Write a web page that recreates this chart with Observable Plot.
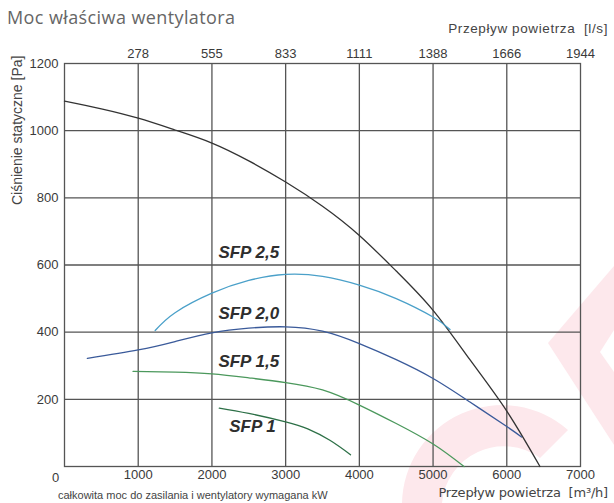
<!DOCTYPE html>
<html lang="pl">
<head>
<meta charset="utf-8">
<script src="https://cdn.jsdelivr.net/npm/d3@7"></script>
<script src="https://cdn.jsdelivr.net/npm/@observablehq/plot@0.6"></script>
<style>
  html, body { margin: 0; padding: 0; background: #fff; }
  #wrap { position: relative; width: 614px; height: 503px; overflow: hidden; font-family: "Liberation Sans", Arial, sans-serif; }
  #deco { position: absolute; left: 0; top: 0; }
  #chart { position: absolute; left: 0; top: 0; }
  .t { position: absolute; white-space: nowrap; color: #444; }
  #title { left: 7px; top: 5px; font-family: "Open Sans", sans-serif; font-size: 18px; color: #666; letter-spacing: 0.4px; }
  #topTitle { right: 6px; top: 21px; font-size: 13.5px; color: #444; letter-spacing: 0.6px; }
  #bottomTitle { right: 6px; top: 485px; font-family: "DejaVu Sans", sans-serif; font-size: 13px; color: #444; letter-spacing: -0.2px; }
  #yTitle { left: 18px; top: 48px; font-size: 14px; color: #444; transform-origin: 0 0; transform: translate(-9px, 157px) rotate(-90deg); }
  #caption { left: 58px; top: 489px; font-size: 11px; line-height: 13px; color: #444; }
</style>
</head>
<body>
<div id="wrap">
  <svg id="deco" width="614" height="503">
    <g fill="#fde8ec">
      <polygon points="548,343 614,266 614,330 600,352 614,372 614,445"></polygon>
      <path d="M402,503 A100,100 0 0 1 568,430 L540,458 A62,62 0 0 0 442,503 Z"></path>
    </g>
  </svg>
  <div id="chart"></div>
  <div class="t" id="title">Moc właściwa wentylatora</div>
  <div class="t" id="topTitle">Przepływ powietrza&nbsp; [l/s]</div>
  <div class="t" id="yTitle">Ciśnienie statyczne [Pa]</div>
  <div class="t" id="bottomTitle">Przepływ powietrza&nbsp; [m³/h]</div>
  <div class="t" id="caption">całkowita moc do zasilania i wentylatory wymagana kW</div>
</div>
<script>
// Airflow (m³/h) vs static pressure (Pa)
const fanCurve = [[0,1088],[500,1065],[1000,1037],[1500,1002],[2000,963],[2500,910],[3000,847],[3500,775],[4000,688],[4500,582],[5000,465],[5500,318],[6000,165],[6450,0]];
const sfp25 = [[1230,405],[1500,458],[2000,516],[2500,554],[3000,572],[3500,566],[4000,540],[4500,500],[5000,445],[5230,408]];
const sfp20 = [[310,322],[1000,347],[1500,372],[2000,398],[2500,412],[3000,416],[3500,403],[4000,366],[4500,318],[5000,262],[5500,192],[6000,119],[6200,88]];
const sfp15 = [[930,283],[1500,281],[2000,276],[2500,264],[3000,250],[3500,228],[4000,183],[4500,128],[5000,67],[5420,0]];
const sfp10 = [[2100,174],[2500,158],[3000,133],[3300,112],[3600,78],[3880,35]];

const seriesNames = ["fan", "SFP 2,5", "SFP 2,0", "SFP 1,5", "SFP 1"];
const seriesData = [fanCurve, sfp25, sfp20, sfp15, sfp10];
const seriesColors = ["#333333", "#4aa0c9", "#3a5a9a", "#4b985c", "#2d7047"];

// Curve names and where they are written (m³/h, Pa)
const labelNames = ["SFP 2,5", "SFP 2,0", "SFP 1,5", "SFP 1"];
const labelAt = [[2500, 637], [2500, 456], [2500, 313], [2550, 119]];

// Axis ticks
const xTicks = [0, 1000, 2000, 3000, 4000, 5000, 6000, 7000];
const lsTickLabels = ["", "278", "555", "833", "1111", "1388", "1666", "1944"];
const yTicks = [200, 400, 600, 800, 1000, 1200];

const rows = seriesData.flatMap((pts, i) => pts.map(([q, p]) => ({ series: seriesNames[i], q, p })));
const labels = labelNames.map((name, i) => ({ name, q: labelAt[i][0], p: labelAt[i][1] }));

const gridStyle = { stroke: "#555", strokeOpacity: 1, strokeWidth: 1.3 };
const plain = d => String(d);

const chart = Plot.plot({
  width: 614,
  height: 503,
  marginLeft: 64,
  marginRight: 34,
  marginTop: 63,
  marginBottom: 37,
  style: { background: "transparent", fontFamily: "Liberation Sans, Arial, sans-serif", fontSize: "13px", color: "#3a3a3a" },
  x: { domain: [0, 7000] },
  y: { domain: [0, 1200] },
  color: { domain: seriesNames, range: seriesColors },
  marks: [
    Plot.gridX(xTicks.slice(1, -1), gridStyle),
    Plot.gridY(yTicks.slice(0, -1), gridStyle),
    Plot.frame(gridStyle),
    Plot.axisY(yTicks, { tickSize: 0, tickPadding: 6, label: null, fontSize: 13, tickFormat: plain }),
    Plot.axisX(xTicks.slice(1), { anchor: "bottom", tickSize: 0, tickPadding: 3, label: null, fontSize: 13, tickFormat: plain }),
    Plot.text([xTicks[0]], { x: d => d, frameAnchor: "bottom", dy: 15, dx: -9, text: plain, fontSize: 13, fill: "#3a3a3a" }),
    Plot.axisX(xTicks.slice(1), { anchor: "top", tickSize: 0, tickPadding: 6, label: null, fontSize: 13,
      tickFormat: d => lsTickLabels[xTicks.indexOf(d)] }),
    Plot.line(rows, { x: "q", y: "p", z: "series", stroke: "series", strokeWidth: 1.3, curve: "natural" }),
    Plot.text(labels, { x: "q", y: "p", text: "name", fontSize: 17, fontWeight: "bold", fontStyle: "italic", fill: "#2e2e2e" })
  ]
});
document.getElementById("chart").appendChild(chart);
</script>
</body>
</html>
